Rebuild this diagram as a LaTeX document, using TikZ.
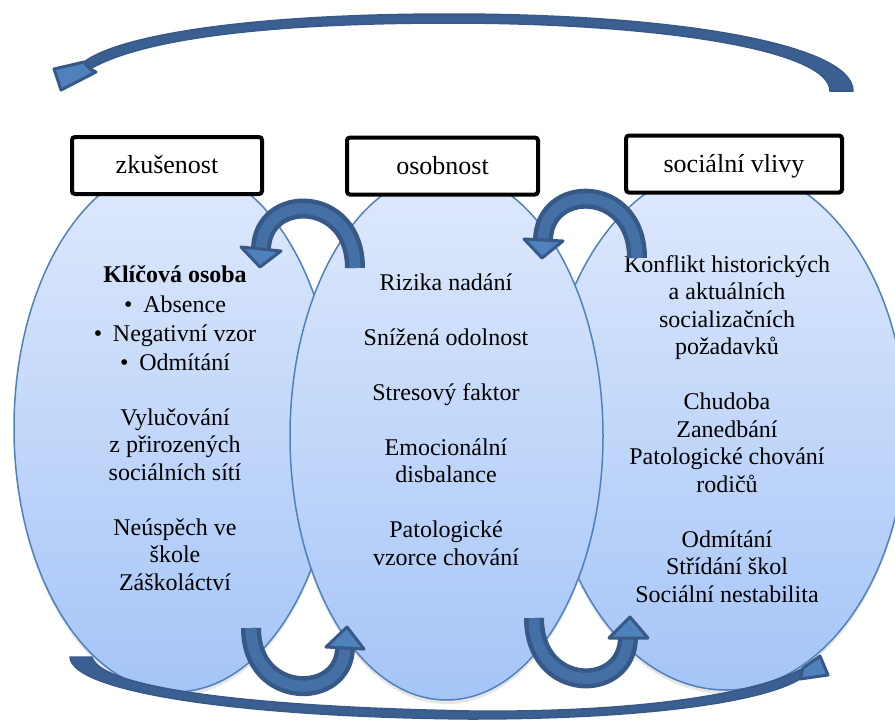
\documentclass[tikz,border=0pt]{standalone}
\usepackage{fontspec}
\setmainfont{LiberationSerif}[Extension=.ttf, UprightFont=*-Regular, BoldFont=*-Bold,
  ItalicFont=*-Italic, BoldItalicFont=*-BoldItalic]
\usetikzlibrary{shapes.geometric,shadows}

\definecolor{ovalline}{HTML}{4F81BD}
\definecolor{ovaltop}{HTML}{DFE9FC}
\definecolor{ovalbottom}{HTML}{A5C5F7}
\definecolor{arrowdark}{HTML}{3A5F90}
\definecolor{arrowface}{HTML}{4F81BD}
\definecolor{arrowedge}{HTML}{365987}
\definecolor{arrowinner}{HTML}{4570A6}

\tikzset{
  oval/.style={ellipse, draw=ovalline, line width=0.75pt, inner sep=0pt,
    top color=ovaltop, bottom color=ovalbottom,
    drop shadow={opacity=0.2, shadow xshift=0pt, shadow yshift=-2pt}},
  titlebox/.style={draw=black, fill=white, line width=2pt, rounded corners=1.5pt,
    minimum height=28.5pt, inner sep=0pt, text height=9.5pt, text depth=1.5pt,
    font=\fontsize{13}{15}\selectfont},
  itemtext/.style={anchor=base, inner sep=0pt, font=\fontsize{12}{13.75}\selectfont},
  band/.style={draw=arrowedge, line width=2.25pt, double=arrowinner, double distance=5.5pt},
  bigband/.style={fill=arrowdark, draw=arrowedge, line width=0.75pt, line join=round},
  headtip/.style={fill=arrowface, draw=arrowedge, line width=1.5pt, line join=round}
}

\begin{document}
\begin{tikzpicture}[x=0.5pt, y=-0.5pt]

    % --- Frame ---
    \useasboundingbox (0,0) rectangle (895,719);
    \clip (0,0) rectangle (895,719);

    % --- Ovals (the middle one lies on top) ---
    \node[oval, minimum width=161pt, minimum height=264pt] (ovalL) at (175,428) {};
    \node[oval, minimum width=180pt, minimum height=262pt] (ovalR) at (726,428) {};
    \node[oval, minimum width=156.5pt, minimum height=264pt] (ovalM) at (446.5,436) {};

    % --- Title boxes ---
    \node[titlebox, minimum width=95pt] (boxL) at (167,165.5) {zkušenost};
    \node[titlebox, minimum width=95.5pt] (boxM) at (442.5,166) {osobnost};
    \node[titlebox, minimum width=108pt] (boxR) at (734,164) {sociální vlivy};

    % --- Texts in the ovals ---
    \node[itemtext] (textL) at (175,282) {\begin{tabular}[t]{@{}c@{}}
        \textbf{Klíčová osoba}\\[1.25pt]
        \textbullet\hspace{0.45em}Absence\\[0.75pt]
        \textbullet\hspace{0.45em}Negativní vzor\\[0.75pt]
        \textbullet\hspace{0.45em}Odmítání\\[13.75pt]
        Vylučování\\
        z přirozených\\
        sociálních sítí\\[13.75pt]
        Neúspěch ve\\
        škole\\
        Záškoláctví
    \end{tabular}};

    \node[itemtext] (textM) at (446,290) {\begin{tabular}[t]{@{}c@{}}
        Rizika nadání\\[13.75pt]
        Snížená odolnost\\[13.75pt]
        Stresový faktor\\[13.75pt]
        Emocionální\\
        disbalance\\[13.75pt]
        Patologické\\
        vzorce chování
    \end{tabular}};

    \node[itemtext] (textR) at (727,272) {\begin{tabular}[t]{@{}c@{}}
        Konflikt historických\\
        a aktuálních\\
        socializačních\\
        požadavků\\[13.75pt]
        Chudoba\\
        Zanedbání\\
        Patologické chování\\
        rodičů\\[13.75pt]
        Odmítání\\
        Střídání škol\\
        Sociální nestabilita
    \end{tabular}};

    % --- Small turning arrows ---
    % A: osobnost -> zkušenost (top)
    \coordinate (footA) at (355,268);
    \coordinate (endA) at (261,250);
    \draw[band] (footA) .. controls (355,192) and (261,192) .. (endA);
    \filldraw[headtip] (241,247) -- (260,267) -- (281,251) -- cycle;

    % B: sociální vlivy -> osobnost (top)
    \coordinate (footB) at (637,258);
    \coordinate (endB) at (543,241);
    \draw[band] (footB) .. controls (637,182) and (543,182) .. (endB);
    \filldraw[headtip] (524,239) -- (542,258) -- (563,241) -- cycle;

    % C: zkušenost -> osobnost (bottom)
    \coordinate (footC) at (251,628);
    \coordinate (endC) at (345,647);
    \draw[band] (footC) .. controls (251,702) and (345,702) .. (endC);
    \filldraw[headtip] (326,647) -- (347,627) -- (364,649) -- cycle;

    % D: osobnost -> sociální vlivy (bottom)
    \coordinate (footD) at (534,618);
    \coordinate (endD) at (628,637);
    \draw[band] (footD) .. controls (534,695) and (628,695) .. (endD);
    \filldraw[headtip] (609,638) -- (630,617) -- (648,638) -- cycle;

    % --- Big arrow over the top ---
    \filldraw[bigband] (853,91) .. controls (853,45) and (680,14) .. (450,14)
        .. controls (250,14) and (120,35) .. (84,62)
        -- (90,69)
        .. controls (140,40) and (260,23) .. (450,23)
        .. controls (660,23) and (830,50) .. (830,91) -- cycle;
    \filldraw[headtip] (84,62) -- (54,69) -- (61,90) -- (96,72) -- (90,69) -- cycle;

    % --- Big arrow along the bottom ---
    \filldraw[bigband] (70,657) -- (92,657)
        .. controls (100,688) and (250,707) .. (470,711)
        .. controls (640,713) and (760,693) .. (803,668)
        -- (800,679)
        .. controls (760,703) and (640,719) .. (470,719)
        .. controls (240,717) and (72,692) .. (70,657) -- cycle;
    \filldraw[headtip] (803,668) -- (820,656) -- (828,675) -- (800,679) -- cycle;

\end{tikzpicture}
\end{document}
